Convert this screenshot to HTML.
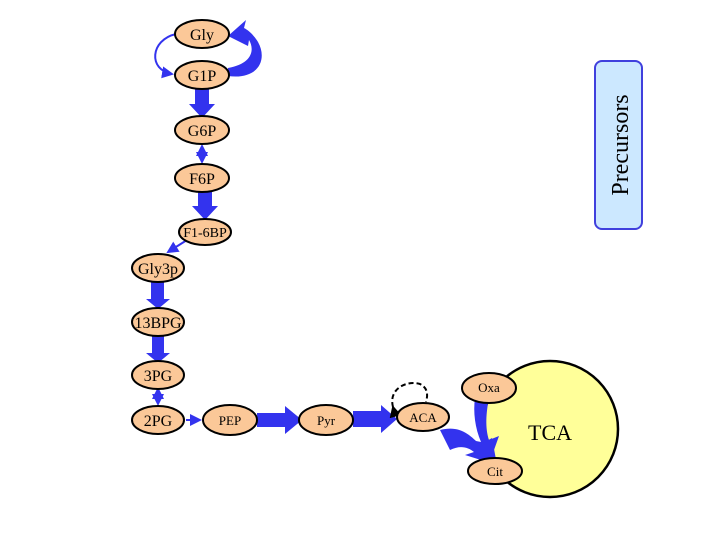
<!DOCTYPE html>
<html><head><style>body{margin:0;background:#fff}svg{display:block}text{font-family:"Liberation Serif",serif;fill:#000}</style></head>
<body>
<svg width="720" height="540" viewBox="0 0 720 540" xmlns="http://www.w3.org/2000/svg">
<defs>
<marker id="ah" markerWidth="6" markerHeight="6" refX="5" refY="3" orient="auto"><path d="M0,0L6,3L0,6z" fill="#3333ee"/></marker>
<marker id="ahs" markerWidth="6" markerHeight="6" refX="1" refY="3" orient="auto"><path d="M6,0L0,3L6,6z" fill="#3333ee"/></marker>
<marker id="bk" markerWidth="6" markerHeight="6" refX="5" refY="3" orient="auto"><path d="M0,0L6,3L0,6z" fill="#000"/></marker>
</defs>
<g fill="#3333ee">
<!-- TCA -->
<circle cx="550" cy="429" r="68" fill="#ffff99" stroke="#000" stroke-width="2.5"/>
<!-- thick arrows vertical -->
<path d="M195,89h14v15h6l-13,14l-13,-14h6z"/>
<path d="M198,192h14v14h6l-13,14l-13,-14h6z"/>
<path d="M151,282h13v17h6l-12,10l-12,-10h5z"/>
<path d="M152,336h12v17h6l-12,10l-12,-10h6z"/>
<!-- horizontal -->
<path d="M257,413h28v-7l17,14l-17,14v-7h-28z"/>
<path d="M353,411h28v-6l16,14l-16,14v-6h-28z"/>
<!-- ACA to Cit & Oxa to Cit -->
<path d="M440,430 C460,425 470,435 480,445 L492,438 L497,465 L465,455 L474,452 C468,447 460,445 450,450z"/>
<path d="M475,398h14c-3,15 -4,30 0,42l10,-4l-10,28l-18,-24l10,2c-6,-14 -8,-30 -6,-44z"/>
<!-- G1P->Gly curved thick -->
<path d="M228,76 C258,80 268,60 258,42 C253,34 248,30 244,28 L246,20 L228,36 L248,46 L249,40 C255,50 252,64 228,68z"/>
</g>
<!-- thin arrows -->
<g stroke="#3333ee" stroke-width="2" fill="none">
<path d="M176,34 C150,40 148,70 172,74" marker-end="url(#ah)"/>
<path d="M202,146V162" marker-end="url(#ah)" marker-start="url(#ahs)"/>
<path d="M187,240L168,252" marker-end="url(#ah)"/>
<path d="M158,389V404" marker-end="url(#ah)" marker-start="url(#ahs)"/>
<path d="M186,420H200" marker-end="url(#ah)"/>
</g>
<path d="M393,407 C388,388 408,380 420,384 C428,388 428,395 426,402" stroke="#000" stroke-width="2" stroke-dasharray="5,3" fill="none" marker-start="url(#bk)"/>
<!-- nodes -->
<g fill="#fbc898" stroke="#000" stroke-width="2">
<ellipse cx="202" cy="34" rx="27" ry="14"/>
<ellipse cx="202" cy="75" rx="27" ry="14"/>
<ellipse cx="202" cy="130" rx="27" ry="14"/>
<ellipse cx="202" cy="178" rx="27" ry="14"/>
<ellipse cx="205" cy="232" rx="26" ry="13"/>
<ellipse cx="158" cy="268" rx="26" ry="14"/>
<ellipse cx="158" cy="322" rx="26" ry="14"/>
<ellipse cx="158" cy="375" rx="26" ry="14"/>
<ellipse cx="158" cy="420" rx="26" ry="14"/>
<ellipse cx="230" cy="420" rx="27" ry="15"/>
<ellipse cx="326" cy="420" rx="27" ry="15"/>
<ellipse cx="423" cy="417" rx="26" ry="14"/>
<ellipse cx="489" cy="388" rx="27" ry="15"/>
<ellipse cx="495" cy="471" rx="27" ry="13"/>
</g>
<g font-size="16" text-anchor="middle">
<text x="202" y="40">Gly</text>
<text x="202" y="81">G1P</text>
<text x="202" y="136">G6P</text>
<text x="202" y="184">F6P</text>
<text x="205" y="237" font-size="14">F1-6BP</text>
<text x="158" y="274">Gly3p</text>
<text x="158" y="328">13BPG</text>
<text x="158" y="381">3PG</text>
<text x="158" y="426">2PG</text>
<text x="230" y="425" font-size="13">PEP</text>
<text x="326" y="425" font-size="13">Pyr</text>
<text x="423" y="422" font-size="13">ACA</text>
<text x="489" y="392" font-size="13">Oxa</text>
<text x="495" y="476" font-size="13">Cit</text>
<text x="550" y="440" font-size="22">TCA</text>
</g>
<rect x="595" y="61" width="47" height="168" rx="7" fill="#cce8ff" stroke="#4040dd" stroke-width="2"/>
<text x="628" y="145" font-size="24" text-anchor="middle" transform="rotate(-90 628 145)">Precursors</text>
</svg>
</body></html>
